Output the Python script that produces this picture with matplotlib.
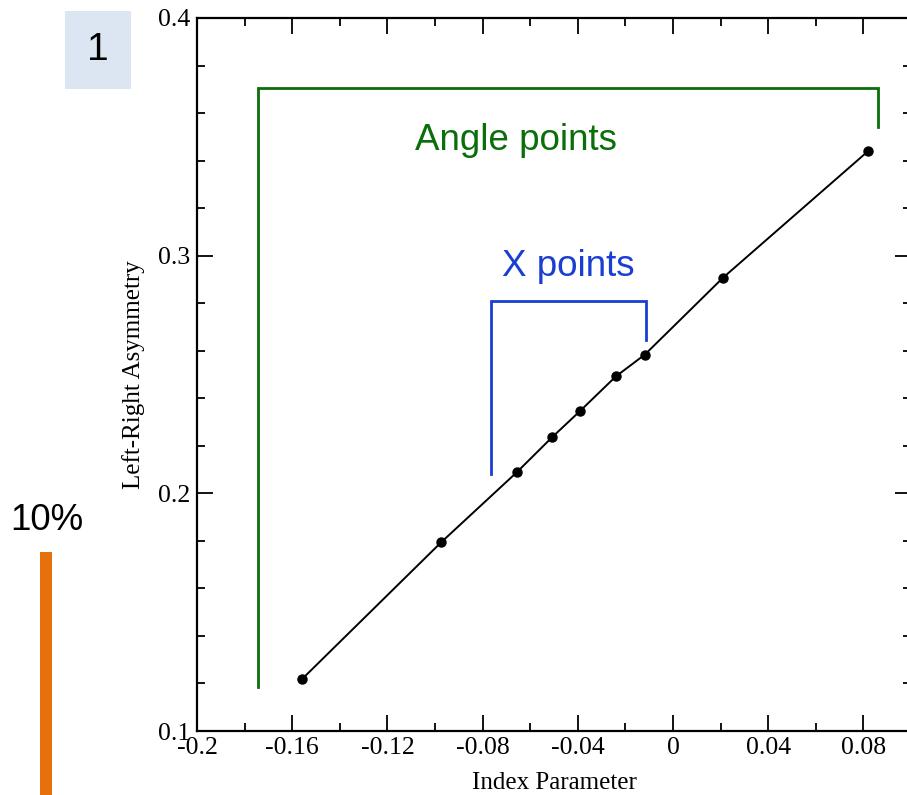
import matplotlib
matplotlib.use("Agg")
import matplotlib.pyplot as plt
from matplotlib.patches import Rectangle
from matplotlib.ticker import FixedLocator, FixedFormatter, MultipleLocator

# Measured asymmetry versus index parameter
index_param = [-0.1558, -0.0973, -0.0657, -0.0509, -0.0392, -0.0240, -0.0118, 0.0211, 0.0821]
asymmetry = [0.1219, 0.1795, 0.2088, 0.2235, 0.2345, 0.2492, 0.2584, 0.2908, 0.3441]

x_ticks = [-0.2, -0.16, -0.12, -0.08, -0.04, 0.0, 0.04, 0.08]
x_tick_labels = ["-0.2", "-0.16", "-0.12", "-0.08", "-0.04", "0", "0.04", "0.08"]
y_ticks = [0.1, 0.2, 0.3, 0.4]
y_tick_labels = ["0.1", "0.2", "0.3", "0.4"]

W, H = 907, 795
fig = plt.figure(figsize=(W / 100, H / 100), dpi=100)

def fx(px):
    return px / W

def fy(py):
    return 1 - py / H

ax = fig.add_axes([fx(197), fy(731), (911 - 197) / W, (731 - 18) / H])
ax.set_xlim(-0.2, 0.1)
ax.set_ylim(0.1, 0.4)

ax.plot(index_param, asymmetry, color="black", lw=1.4, marker="o", ms=6.5,
        mfc="black", mec="black", zorder=3)

serif = "Liberation Serif"
ax.xaxis.set_major_locator(FixedLocator(x_ticks))
ax.xaxis.set_major_formatter(FixedFormatter(x_tick_labels))
ax.xaxis.set_minor_locator(MultipleLocator(0.02))
ax.yaxis.set_major_locator(FixedLocator(y_ticks))
ax.yaxis.set_major_formatter(FixedFormatter(y_tick_labels))
ax.yaxis.set_minor_locator(MultipleLocator(0.02))
ax.tick_params(which="both", direction="in", top=True, right=True, width=1.3,
               colors="black")
ax.tick_params(which="major", length=11.5, labelsize=18.5)
ax.tick_params(axis="x", which="major", pad=4)
ax.tick_params(axis="y", which="major", pad=5)
ax.tick_params(which="minor", length=5.8)
for lab in ax.get_xticklabels() + ax.get_yticklabels():
    lab.set_fontfamily(serif)
for sp in ax.spines.values():
    sp.set_linewidth(1.6)

ax.set_xlabel("Index Parameter", fontfamily=serif, fontsize=18, labelpad=10)
ax.set_ylabel("Left-Right Asymmetry", fontfamily=serif, fontsize=18, labelpad=9)

# Bracket marking the angle-scan points
green = "#0a6e0a"
ax.plot([-0.1743, -0.1743, 0.0862, 0.0862], [0.1186, 0.3704, 0.3704, 0.3541],
        color=green, lw=2, clip_on=False, solid_joinstyle="miter")
ax.text(-0.0661, 0.3485, "Angle points", color=green, fontsize=26.5,
        fontfamily="Liberation Sans", ha="center", va="center")

# Bracket marking the X-scan points
blue = "#1a3ed2"
ax.plot([-0.0765, -0.0765, -0.0114, -0.0114], [0.2081, 0.2810, 0.2810, 0.2647],
        color=blue, lw=2, clip_on=False, solid_joinstyle="miter")
ax.text(-0.0438, 0.2955, "X points", color=blue, fontsize=26.5,
        fontfamily="Liberation Sans", ha="center", va="center")

# Panel number badge
fig.patches.append(Rectangle((fx(65), fy(89)), (131 - 65) / W, (89 - 11) / H,
                             transform=fig.transFigure, facecolor="#dce6f2",
                             edgecolor="none"))
fig.text(fx(98), fy(50), "1", fontsize=28, fontfamily="Liberation Sans",
         ha="center", va="center")

# Scale bar
fig.text(fx(47), fy(520), "10%", fontsize=26.5, fontfamily="Liberation Sans",
         ha="center", va="center")
fig.patches.append(Rectangle((fx(40), fy(795)), 12 / W, (795 - 552) / H,
                             transform=fig.transFigure, facecolor="#e5700c",
                             edgecolor="none"))

fig.savefig("out.png", dpi=100)
